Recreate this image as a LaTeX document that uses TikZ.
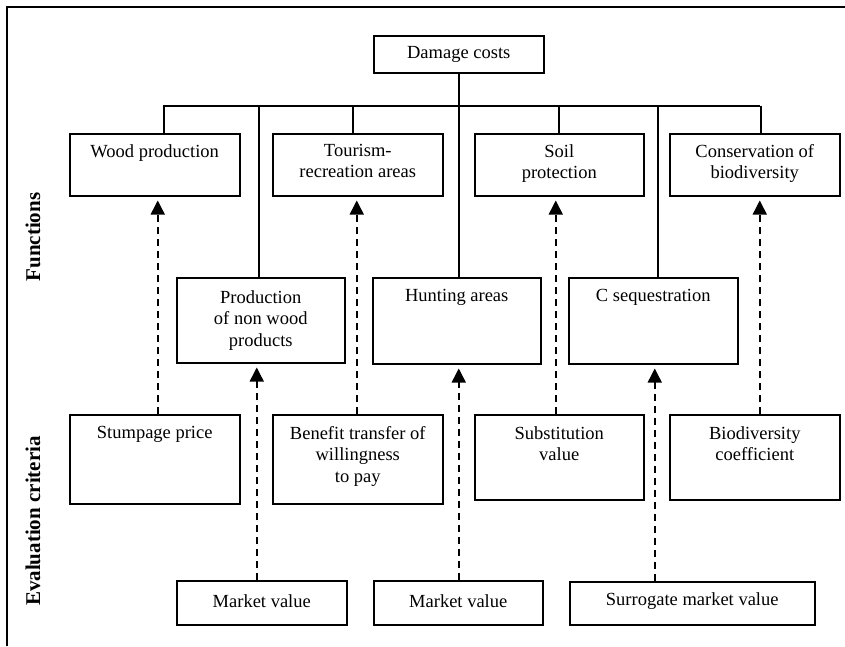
\documentclass[tikz,border=0pt]{standalone}
\usepackage{fontspec}
\setmainfont{Liberation Serif}
\usetikzlibrary{arrows.meta,calc}
\begin{document}
\begin{tikzpicture}[x=1pt,y=-1pt,
  box/.style={draw,line width=1.5pt,inner sep=0pt,anchor=north west},
  txt/.style={anchor=north,align=center,inner sep=0pt,font=\fontsize{18.5}{21.5}\selectfont},
  ctxt/.style={anchor=center,align=center,inner sep=0pt,font=\fontsize{18.5}{21.5}\selectfont},
  lab/.style={rotate=90,inner sep=0pt,font=\fontsize{21}{24}\selectfont\bfseries},
  tree/.style={line width=1.6pt},
  darr/.style={line width=1.5pt,dash pattern=on 7pt off 5pt,shorten >=4pt,-{Triangle[width=14pt,length=14pt]}}]
\useasboundingbox (0,0) rectangle (845,646);
% frame
\draw[line width=1.4pt] (7,646) -- (7,7) -- (845,7);
% side labels
\node[lab] (fun) at (33,237) {Functions};
\node[lab] (evc) at (33,521) {Evaluation criteria};
% top
\node[box,minimum width=170pt,minimum height=37pt] (dmg) at (373,35) {};
\node[ctxt] (dmgT) at (dmg.center) {Damage costs};
% row 1
\node[box,minimum width=170pt,minimum height=62pt] (wood) at (69,133) {};
\node[box,minimum width=170pt,minimum height=62pt] (tour) at (272,133) {};
\node[box,minimum width=169pt,minimum height=62pt] (soil) at (474,133) {};
\node[box,minimum width=170pt,minimum height=62pt] (cons) at (669,133) {};
\node[txt] (woodT) at ([yshift=-11pt]wood.north) {Wood production};
\node[txt] (tourT) at ([yshift=-11pt]tour.north) {Tourism-\\recreation areas};
\node[txt] (soilT) at ([yshift=-11pt]soil.north) {Soil\\protection};
\node[txt] (consT) at ([yshift=-11pt]cons.north) {Conservation of\\biodiversity};
% row 2
\node[box,minimum width=168pt,minimum height=85pt] (prod) at (176,277) {};
\node[box,minimum width=168pt,minimum height=86pt] (hunt) at (372,277) {};
\node[box,minimum width=169pt,minimum height=86pt] (cseq) at (568,277) {};
\node[txt] (prodT) at ([yshift=-13pt]prod.north) {Production\\of non wood\\products};
\node[txt] (huntT) at ([yshift=-12pt]hunt.north) {Hunting areas};
\node[txt] (cseqT) at ([yshift=-12pt]cseq.north) {C sequestration};
% row 3
\node[box,minimum width=170pt,minimum height=89pt] (stump) at (69,414) {};
\node[box,minimum width=170pt,minimum height=89pt] (bene) at (272,414) {};
\node[box,minimum width=169pt,minimum height=85pt] (subst) at (474,414) {};
\node[box,minimum width=170pt,minimum height=85pt] (biod) at (669,414) {};
\node[txt] (stumpT) at ([yshift=-12pt]stump.north) {Stumpage price};
\node[txt] (beneT) at ([yshift=-12pt]bene.north) {Benefit transfer of\\willingness\\to pay};
\node[txt] (substT) at ([yshift=-12pt]subst.north) {Substitution\\value};
\node[txt] (biodT) at ([yshift=-12pt]biod.north) {Biodiversity\\coefficient};
% row 4
\node[box,minimum width=170pt,minimum height=44pt] (mv1) at (176,580) {};
\node[box,minimum width=169pt,minimum height=44pt] (mv2) at (373,580) {};
\node[box,minimum width=245pt,minimum height=43pt] (surr) at (569,581) {};
\node[ctxt] (mv1T) at ([yshift=2pt]mv1.center) {Market value};
\node[ctxt] (mv2T) at ([yshift=2pt]mv2.center) {Market value};
\node[ctxt] (surrT) at ([yshift=2pt]surr.center) {Surrogate market value};
% tree
\coordinate (busL) at (163,106);
\coordinate (busR) at (760,106);
\draw[tree] (busL) -- (busR);
\draw[tree] (dmg.south) -- (dmg.south |- busL);
\draw[tree] ([xshift=9pt]wood.north) -- ([xshift=9pt]wood.north |- busL);
\draw[tree] ([xshift=-5pt]tour.north) -- ([xshift=-5pt]tour.north |- busL);
\draw[tree] ([xshift=-0.5pt]soil.north) -- ([xshift=-0.5pt]soil.north |- busL);
\draw[tree] ([xshift=6pt]cons.north) -- ([xshift=6pt]cons.north |- busL);
\draw[tree] ([xshift=-2pt]prod.north) -- ([xshift=-2pt]prod.north |- busL);
\draw[tree] ([xshift=2pt]hunt.north) -- ([xshift=2pt]hunt.north |- busL);
\draw[tree] ([xshift=4.5pt]cseq.north) -- ([xshift=4.5pt]cseq.north |- busL);
% dashed arrows
\draw[darr] ([xshift=3pt]wood.south |- stump.north) -- ([xshift=3pt]wood.south);
\draw[darr] ([xshift=-1pt]tour.south |- bene.north) -- ([xshift=-1pt]tour.south);
\draw[darr] ([xshift=-3.5pt]soil.south |- subst.north) -- ([xshift=-3.5pt]soil.south);
\draw[darr] ([xshift=5pt]cons.south |- biod.north) -- ([xshift=5pt]cons.south);
\draw[darr] ([xshift=-4pt]prod.south |- mv1.north) -- ([xshift=-4pt]prod.south);
\draw[darr] ([xshift=2pt]hunt.south |- mv2.north) -- ([xshift=2pt]hunt.south);
\draw[darr] ([xshift=1.5pt]cseq.south |- surr.north) -- ([xshift=1.5pt]cseq.south);
\end{tikzpicture}
\end{document}
